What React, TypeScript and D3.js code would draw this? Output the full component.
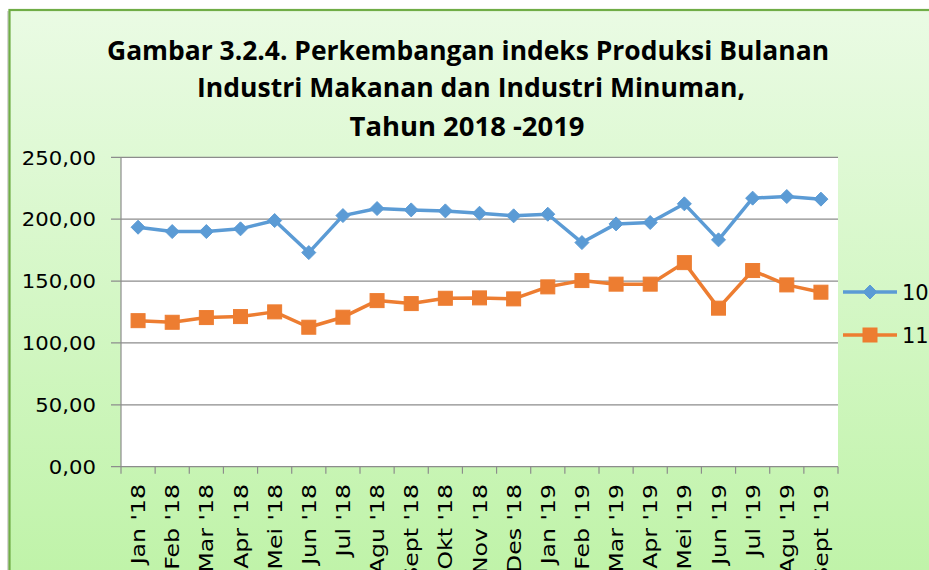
import React from "react";
import * as d3 from "d3";

const categories = [
  "Jan '18", "Feb '18", "Mar '18", "Apr '18", "Mei '18", "Jun '18", "Jul '18",
  "Agu '18", "Sept '18", "Okt '18", "Nov '18", "Des '18", "Jan '19", "Feb '19",
  "Mar '19", "Apr '19", "Mei '19", "Jun '19", "Jul '19", "Agu '19", "Sept '19",
];

const series10 = [
  193.5, 190.0, 190.0, 192.2, 198.9, 173.0, 202.9, 208.6, 207.5, 206.7, 204.8,
  202.7, 204.0, 181.1, 196.2, 197.3, 212.4, 183.3, 217.0, 218.3, 216.2,
];

const series11 = [
  118.0, 116.7, 120.5, 121.3, 125.1, 112.7, 120.8, 134.2, 131.8, 136.1, 136.4,
  135.6, 145.3, 150.4, 147.5, 147.5, 164.9, 128.1, 158.5, 146.9, 141.0,
];

const yTicks = [0, 50, 100, 150, 200, 250];
const seriesNames = ["10", "11"];
const titleLines = [
  "Gambar 3.2.4. Perkembangan indeks Produksi Bulanan",
  "Industri Makanan dan Industri Minuman,",
  "Tahun 2018 -2019",
];

const W = 929;
const H = 570;
const plot = { left: 121, right: 838, top: 157.3, bottom: 466.7 };
const BLUE = "#5b9bd5";
const ORANGE = "#ed7d31";
const AXIS_FONT = "'DejaVu Sans', Verdana, sans-serif";
const TITLE_FONT = "'Open Sans', 'Noto Sans', sans-serif";

export default function App() {
  const x = d3
    .scaleBand<string>()
    .domain(categories)
    .range([plot.left, plot.right])
    .padding(0);
  const y = d3.scaleLinear().domain([0, 250]).range([plot.bottom, plot.top]);
  const cx = (c: string) => (x(c) as number) + x.bandwidth() / 2;

  const line = d3
    .line<number>()
    .x((_, i) => cx(categories[i]))
    .y((d) => y(d));

  const fmt = (v: number) => d3.format(".2f")(v).replace(".", ",");

  const diamond = (px: number, py: number, r: number) =>
    `M${px},${py - r}L${px + r},${py}L${px},${py + r}L${px - r},${py}Z`;

  const titleSpecs = [
    { y: 60, len: 722 },
    { y: 97, len: 548 },
    { y: 136, len: 235 },
  ];
  const titleCenters = [468, 471, 467];

  const legendY = [292, 335];

  return (
    <div style={{ position: "absolute", left: 0, top: 0 }}>
      <svg width={W} height={H} style={{ display: "block" }}>
        <defs>
          <linearGradient id="bg" x1="0" y1="0" x2="0" y2="1">
            <stop offset="0%" stopColor="#eafbe4" />
            <stop offset="100%" stopColor="#bff3a8" />
          </linearGradient>
        </defs>
        <rect x={0} y={0} width={W} height={H} fill="#ffffff" />
        <rect x={7} y={11} width={W} height={H} fill="#d6d6d6" />
        <rect
          x={9.5}
          y={10}
          width={W}
          height={H}
          fill="url(#bg)"
          stroke="#70ad47"
          strokeWidth={2.2}
        />

        {/* title */}
        {titleLines.map((t, i) => (
          <text
            key={i}
            x={titleCenters[i]}
            y={titleSpecs[i].y}
            textAnchor="middle"
            fontFamily={TITLE_FONT}
            fontWeight="bold"
            fontSize={27}
            textLength={titleSpecs[i].len}
            lengthAdjust="spacingAndGlyphs"
            fill="#000"
          >
            {t}
          </text>
        ))}

        {/* plot area */}
        <rect
          x={plot.left}
          y={plot.top}
          width={plot.right - plot.left}
          height={plot.bottom - plot.top}
          fill="#ffffff"
        />

        {/* gridlines and y ticks */}
        {yTicks.map((t) => (
          <g key={t}>
            <line
              x1={plot.left - 10}
              x2={plot.right}
              y1={y(t)}
              y2={y(t)}
              stroke="#8c8c8c"
              strokeWidth={1.2}
            />
            <text
              transform={`translate(96,${y(t)}) scale(1.06,1)`}
              dy="0.36em"
              textAnchor="end"
              fontFamily={AXIS_FONT}
              fontSize={20}
              fill="#000"
            >
              {fmt(t)}
            </text>
          </g>
        ))}

        {/* y axis line */}
        <line
          x1={plot.left}
          x2={plot.left}
          y1={plot.top}
          y2={plot.bottom}
          stroke="#8c8c8c"
          strokeWidth={1.2}
        />

        {/* x ticks */}
        {[...categories.map((c) => x(c) as number), plot.right].map((px, i) => (
          <line
            key={i}
            x1={px}
            x2={px}
            y1={plot.bottom}
            y2={plot.bottom + 7}
            stroke="#8c8c8c"
            strokeWidth={1.2}
          />
        ))}

        {/* x labels */}
        {categories.map((c) => (
          <text
            key={c}
            transform={`translate(${cx(c) + 7},484) rotate(-90) scale(1.18,1)`}
            textAnchor="end"
            fontFamily={AXIS_FONT}
            fontSize={20}
            fill="#000"
          >
            {c}
          </text>
        ))}

        {/* series lines */}
        <path
          d={line(series10) || ""}
          fill="none"
          stroke={BLUE}
          strokeWidth={3.5}
          strokeLinejoin="round"
        />
        <path
          d={line(series11) || ""}
          fill="none"
          stroke={ORANGE}
          strokeWidth={3.5}
          strokeLinejoin="round"
        />

        {/* markers */}
        {series10.map((v, i) => (
          <path
            key={"d" + i}
            d={diamond(cx(categories[i]), y(v), 7)}
            fill={BLUE}
            stroke={BLUE}
            strokeWidth={1}
          />
        ))}
        {series11.map((v, i) => (
          <rect
            key={"s" + i}
            x={cx(categories[i]) - 7}
            y={y(v) - 7}
            width={14}
            height={14}
            fill={ORANGE}
            stroke={ORANGE}
            strokeWidth={1}
          />
        ))}

        {/* legend */}
        {seriesNames.map((n, i) => (
          <g key={n}>
            <line
              x1={843}
              x2={897}
              y1={legendY[i]}
              y2={legendY[i]}
              stroke={i === 0 ? BLUE : ORANGE}
              strokeWidth={3.5}
            />
            {i === 0 ? (
              <path d={diamond(870, legendY[i], 7)} fill={BLUE} stroke={BLUE} />
            ) : (
              <rect
                x={863}
                y={legendY[i] - 7}
                width={14}
                height={14}
                fill={ORANGE}
                stroke={ORANGE}
              />
            )}
            <text
              x={902}
              y={legendY[i]}
              dy="0.36em"
              fontFamily={AXIS_FONT}
              fontSize={21}
              fill="#000"
            >
              {n}
            </text>
          </g>
        ))}
      </svg>
    </div>
  );
}
